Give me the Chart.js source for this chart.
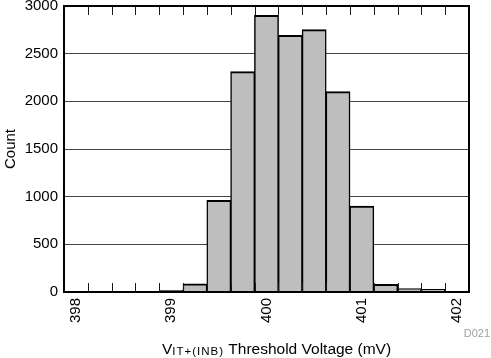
<!DOCTYPE html>
<html>
<head>
<meta charset="utf-8">
<script src="https://cdn.jsdelivr.net/npm/chart.js@4/dist/chart.umd.min.js"></script>
<style>
  html, body { margin: 0; padding: 0; background: #fff; }
  #wrap { width: 491px; height: 358px; }
</style>
</head>
<body>
<div id="wrap"><canvas id="c" width="491" height="358"></canvas></div>
<script>
// ---- data ----
const binCenters = [398, 398.25, 398.5, 398.75, 399, 399.25, 399.5, 399.75, 400, 400.25, 400.5, 400.75, 401, 401.25, 401.5, 401.75, 402];
const counts     = [0,   0,      0,     0,      15,  85,     960,   2310,   2900, 2690,  2750,  2100,   900, 78,     35,    25,     6];
const binWidth = 0.25;
const xTickLabels = [398, 399, 400, 401, 402];
const yTickValues = [0, 500, 1000, 1500, 2000, 2500, 3000];
const yTitle = 'Count';
const xTitleMain = 'V';
const xTitleSub = 'IT+(INB)';
const xTitleRest = ' Threshold Voltage (mV)';
const figureId = 'D021';

const FONT = '"Liberation Sans", Arial, sans-serif';
const xMin = binCenters[0] - binWidth / 2;
const xMax = binCenters[binCenters.length - 1] + binWidth / 2;
const binEdges = [];
for (let i = 0; i < binCenters.length; i++) binEdges.push(binCenters[i] - binWidth / 2);
binEdges.push(xMax);

function zeroPad(scale) {
  scale.paddingTop = 0; scale.paddingBottom = 0;
  scale.paddingLeft = 0; scale.paddingRight = 0;
}

// frame + inner tick marks at every bin edge (top and bottom), placed via the x scale
const framePlugin = {
  id: 'frame',
  afterDraw(chart) {
    const ctx = chart.ctx;
    const a = chart.chartArea;
    const xs = chart.scales.x;
    const len = 9;
    ctx.save();
    ctx.fillStyle = '#1a1a1a';
    for (let i = 0; i < binEdges.length; i++) {
      const px = Math.round(xs.getPixelForValue(binEdges[i]));
      ctx.fillRect(px, Math.round(a.top), 1, len);
      ctx.fillRect(px, Math.round(a.bottom) - len, 1, len);
    }
    ctx.strokeStyle = '#000';
    ctx.lineWidth = 2;
    ctx.strokeRect(a.left, a.top, a.right - a.left, a.bottom - a.top);
    ctx.restore();
  }
};

const titlePlugin = {
  id: 'xtitle',
  afterDraw(chart) {
    const ctx = chart.ctx;
    const a = chart.chartArea;
    const width = chart.width;
    ctx.save();
    ctx.fillStyle = '#000';
    ctx.textBaseline = 'alphabetic';
    ctx.textAlign = 'left';
    const mainFont = '15.5px ' + FONT;
    const subFont = '11.5px ' + FONT;
    ctx.font = mainFont;
    const wV = ctx.measureText(xTitleMain).width;
    const wR = ctx.measureText(xTitleRest).width;
    ctx.font = subFont;
    ctx.letterSpacing = '1px';
    const wS = ctx.measureText(xTitleSub).width;
    const total = wV + wS + wR;
    let x = (a.left + a.right) / 2 - total / 2 + 10;
    const base = 354;
    ctx.letterSpacing = '0px';
    ctx.font = mainFont;
    ctx.fillText(xTitleMain, x, base);
    x += wV;
    ctx.font = subFont;
    ctx.letterSpacing = '1px';
    ctx.fillText(xTitleSub, x, base + 1);
    x += wS;
    ctx.letterSpacing = '0px';
    ctx.font = mainFont;
    ctx.fillText(xTitleRest, x, base);
    ctx.font = '11px ' + FONT;
    ctx.fillStyle = '#a0a0a0';
    ctx.textAlign = 'right';
    ctx.fillText(figureId, width - 1, 337);
    ctx.restore();
  }
};

new Chart(document.getElementById('c'), {
  type: 'bar',
  data: {
    datasets: [{
      data: binCenters.map((c, i) => ({ x: c, y: counts[i] })),
      backgroundColor: '#bebebe',
      borderColor: '#000',
      borderWidth: { top: 2, left: 1.5, right: 1.5, bottom: 0 },
      borderSkipped: 'start',
      barPercentage: 1,
      categoryPercentage: 1,
      inflateAmount: 0.5
    }]
  },
  options: {
    responsive: false,
    animation: false,
    devicePixelRatio: 1,
    layout: { padding: { top: 6, right: 22, left: 0, bottom: 0 } },
    plugins: { legend: { display: false }, tooltip: { enabled: false }, title: { display: false } },
    scales: {
      x: {
        type: 'linear', position: 'bottom',
        min: xMin, max: xMax, offset: false,
        afterBuildTicks(scale) { scale.ticks = xTickLabels.map(v => ({ value: v })); },
        ticks: {
          autoSkip: false, minRotation: 90, maxRotation: 90,
          padding: 6, color: '#000',
          font: { family: FONT, size: 15 },
          callback: v => String(v)
        },
        grid: { display: false, drawTicks: false, offset: false },
        border: { display: false },
        afterFit(scale) { scale.height = 66; zeroPad(scale); }
      },
      y: {
        type: 'linear', position: 'left',
        min: 0, max: 3000,
        afterBuildTicks(scale) { scale.ticks = yTickValues.map(v => ({ value: v })); },
        ticks: { padding: 6, color: '#000', font: { family: FONT, size: 15 }, callback: v => String(v) },
        grid: { color: '#444', lineWidth: 1, drawTicks: false },
        border: { display: false },
        title: { display: true, text: yTitle, color: '#000', font: { family: FONT, size: 15 }, padding: 2 },
        afterFit(scale) { scale.width = 64; zeroPad(scale); }
      }
    }
  },
  plugins: [framePlugin, titlePlugin]
});
</script>
</body>
</html>
